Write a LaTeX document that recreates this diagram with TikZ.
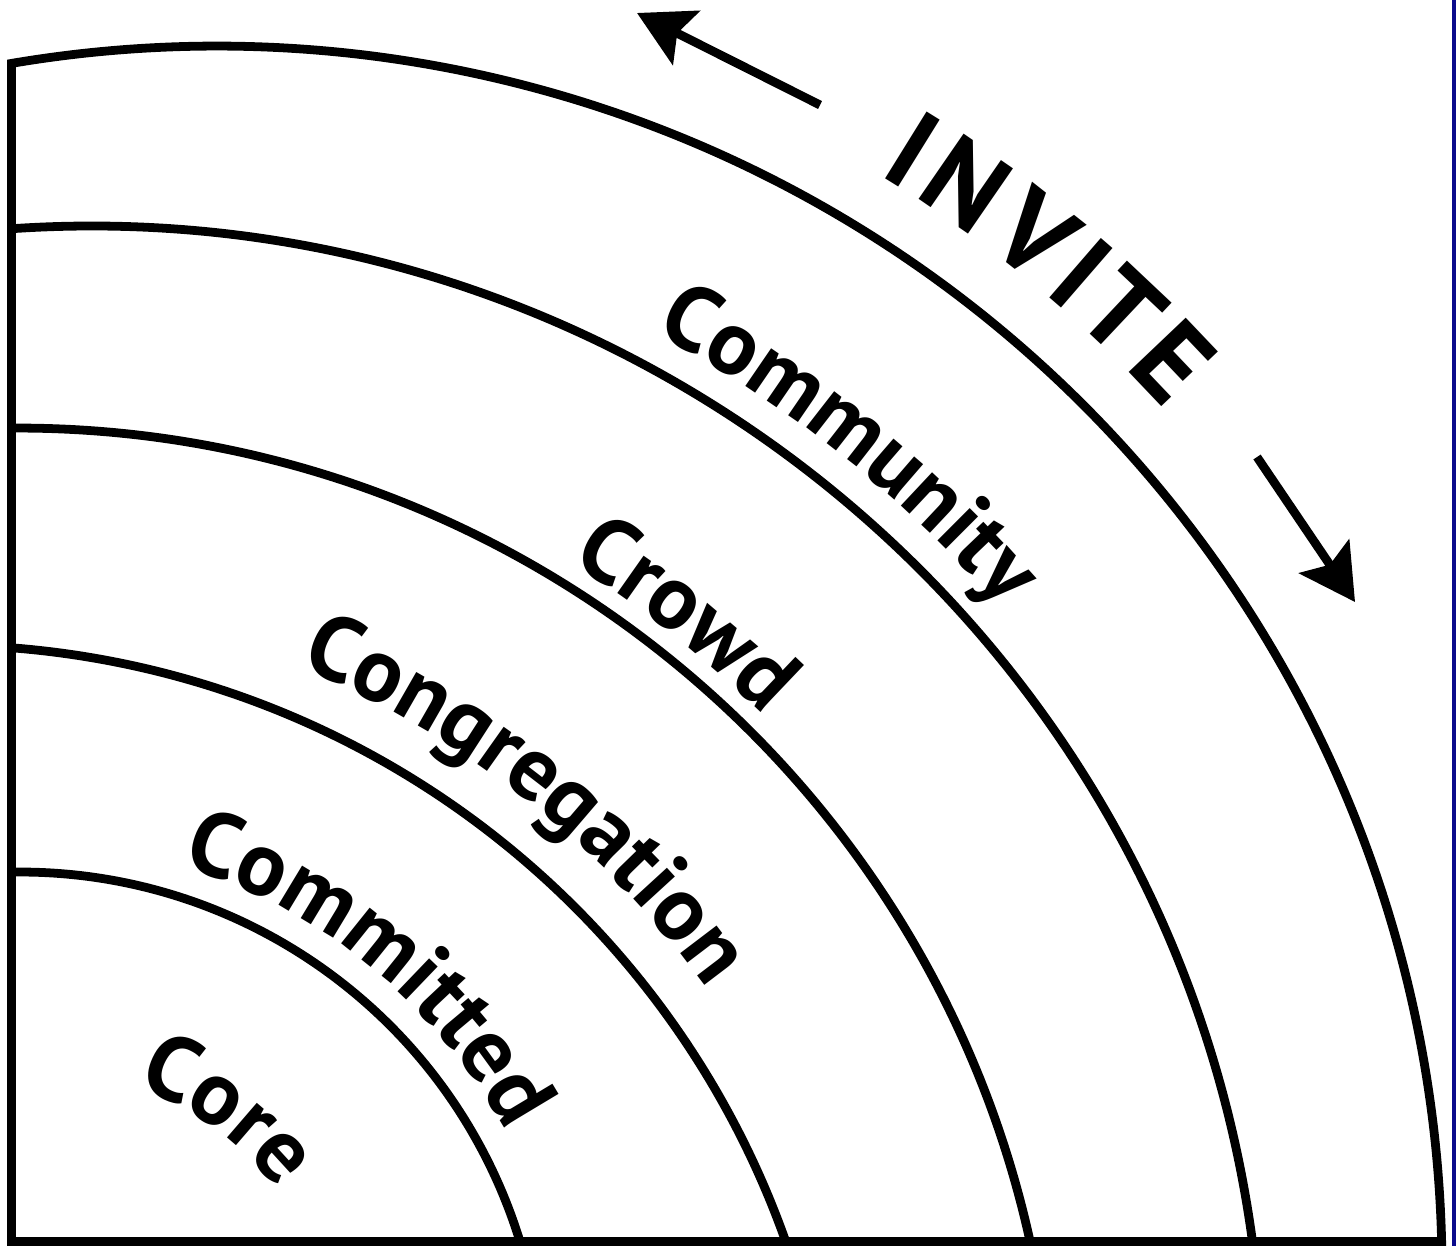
\documentclass[tikz,border=0pt]{standalone}
\usepackage{fontspec}
\setmainfont{PT Sans}
\usetikzlibrary{arrows.meta,decorations.text,calc}

\definecolor{edgeblue}{RGB}{10,10,140}
\newcommand{\zonefont}{\bfseries\fontsize{26}{30}\selectfont}
\newcommand{\invitefont}{\bfseries\fontsize{32}{36}\selectfont}

\tikzset{
  ring/.style={line width=2.5pt},
  zone/.style={decorate, decoration={text along path, text={|\zonefont|#1}, text align=center}},
  invite/.style={font=\invitefont, inner sep=0pt},
  invarrow/.style={line width=2.5pt, -{Stealth[length=5.5mm, width=6mm, inset=1mm]}}
}

\begin{document}
\begin{tikzpicture}
        \useasboundingbox (0,0) rectangle (14.56,12.46);
        \fill[edgeblue] (14.52,0) rectangle (14.56,12.46);

        % centres of the rings
        \coordinate (c1) at (2.17, -0.25);
        \coordinate (c2) at (0.91, -1.52);
        \coordinate (c3) at (0.175, -2.19);
        \coordinate (c4) at (-0.58, -2.94);
        \coordinate (c5) at (0.20, -1.49);

        % frame and outer ring
        \draw[ring] (0.115, 0.045) -- (14.416, 0.045) arc[start angle=1.38, end angle=99.66, radius=12.25] -- cycle;

        % inner rings
        \draw[ring] ($(c2)+(93.89:11.72)$) arc[start angle=93.89, end angle=7.67, radius=11.72];
        \draw[ring] ($(c3)+(90.33:10.37)$) arc[start angle=90.33, end angle=12.45, radius=10.37];
        \draw[ring] ($(c4)+(85.55:8.95)$) arc[start angle=85.55, end angle=19.48, radius=8.95];
        \draw[ring] ($(c5)+(90.93:5.23)$) arc[start angle=90.93, end angle=17.07, radius=5.23];

        % names of the rings
        \path[zone=Community] ($(c2)+(81.5:12.05)$) arc[start angle=81.5, end angle=21.5, radius=12.05];
        \path[zone=Crowd] ($(c3)+(81.8:10.58)$) arc[start angle=81.8, end angle=21.8, radius=10.58];
        \path[zone=Congregation] ($(c4)+(81.75:9.43)$) arc[start angle=81.75, end angle=21.75, radius=9.43];
        \path[zone=Committed] ($(c5)+(85.75:5.53)$) arc[start angle=85.75, end angle=15.75, radius=5.53];
        \path[zone=Core] ($(c5)+(88.9:3.30)$) arc[start angle=88.9, end angle=18.9, radius=3.30];

        % INVITE, one letter at a time
        \foreach \ang/\ch [count=\i] in {58.2/I, 55.4/N, 51.7/V, 49.1/I, 46.7/T, 43.55/E}
            \node[invite, rotate=\ang-90] (inv\i) at ($(c1)+(\ang:13.2)$) {\ch};

        \coordinate (upTail) at (8.20, 11.41);
        \coordinate (upTip) at (6.37, 12.33);
        \coordinate (downTail) at (12.57, 7.89);
        \coordinate (downTip) at (13.55, 6.44);
        \draw[invarrow] (upTail) -- (upTip);
        \draw[invarrow] (downTail) -- (downTip);
    \end{tikzpicture}
\end{document}
